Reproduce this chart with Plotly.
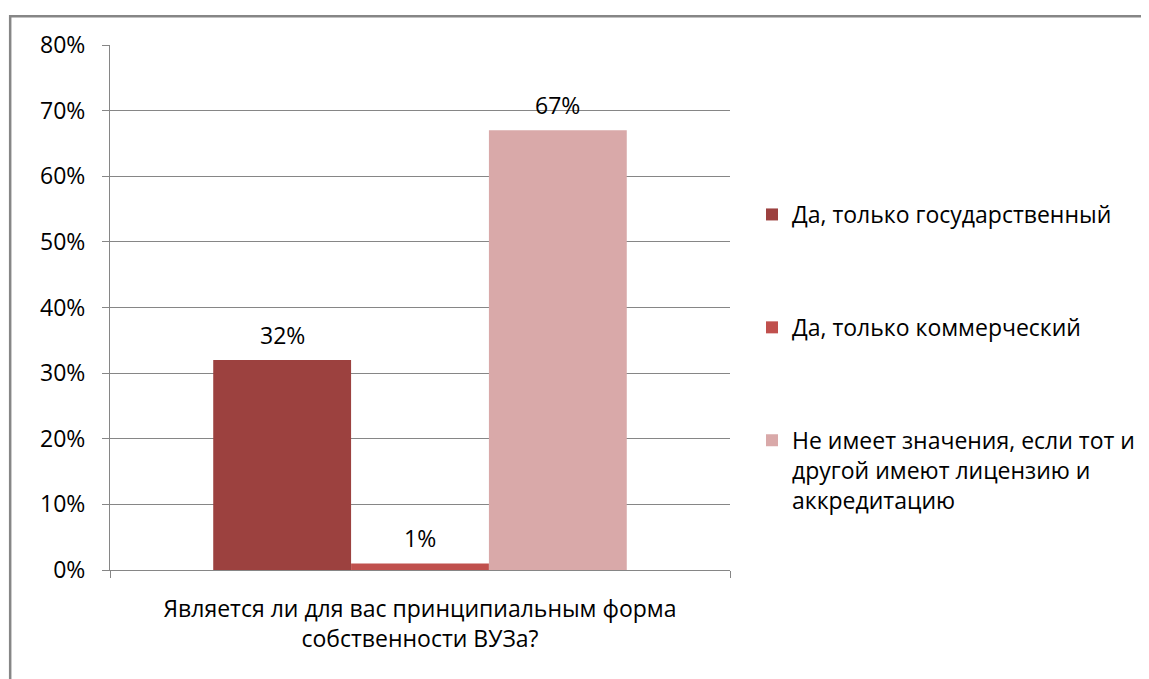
import plotly.graph_objects as go

category = ["Является ли для вас принципиальным форма<br>собственности ВУЗа?"]
series_names = [
    "Да, только государственный",
    "Да, только коммерческий",
    "Не имеет значения, если тот и<br>другой имеют лицензию и<br>аккредитацию",
]
series_values = [[0.32], [0.01], [0.67]]
series_colors = ["#9C413F", "#C0504D", "#D9A9A9"]
y_ticks = [0, 0.1, 0.2, 0.3, 0.4, 0.5, 0.6, 0.7, 0.8]

FONT = "Open Sans"
FS = 23
GRAY = "#868686"
BARGAP = 0.333
W, H = 1141, 671

fig = go.Figure()
for i, (name, vals, col) in enumerate(zip(series_names, series_values, series_colors)):
    fig.add_trace(go.Bar(
        x=category, y=vals, name=name, marker_color=col, marker_line_width=0,
        legendgroup=f"g{i}",
    ))

# data labels placed above each bar via the axis scales
n = len(series_values)
group_w = 1 - BARGAP
bw = group_w / n
for i, vals in enumerate(series_values):
    for j, v in enumerate(vals):
        fig.add_annotation(x=j - group_w / 2 + bw * (i + 0.5), y=v, xref="x", yref="y",
                           text=f"{v*100:.0f}%", showarrow=False, yanchor="middle",
                           yshift=25, font=dict(family=FONT, size=FS, color="#000000"))

fig.update_layout(
    width=W, height=H,
    margin=dict(l=102, r=419, t=37, b=109),
    paper_bgcolor="white", plot_bgcolor="white",
    barmode="group", bargap=BARGAP, bargroupgap=0,
    font=dict(family=FONT, size=FS, color="#000000"),
    legend=dict(xref="container", yref="container",
                x=744 / W, xanchor="left", y=1 - 185 / H, yanchor="top",
                traceorder="grouped", tracegroupgap=80, valign="top",
                font=dict(family=FONT, size=FS), itemwidth=30),
    showlegend=True,
)
fig.update_yaxes(range=[0, 0.8], tickvals=y_ticks, tickformat=".0%",
                 showgrid=True, gridcolor=GRAY, gridwidth=1,
                 showline=True, linecolor=GRAY, linewidth=1,
                 ticks="outside", ticklen=7, tickcolor=GRAY, zeroline=False,
                 ticklabelstandoff=12,
                 tickfont=dict(family=FONT, size=FS))
fig.update_xaxes(showline=True, linecolor=GRAY, linewidth=1,
                 ticks="outside", ticklen=7, tickcolor=GRAY, tickson="boundaries",
                 ticklabelstandoff=18,
                 tickfont=dict(family=FONT, size=FS), showgrid=False)

fig.add_shape(type="rect", xref="paper", yref="paper",
              x0=-0.161, x1=2.0, y0=-1.0, y1=1.055,
              line=dict(color=GRAY, width=2.5), fillcolor="rgba(0,0,0,0)", layer="below")

fig.write_html("out.html")
